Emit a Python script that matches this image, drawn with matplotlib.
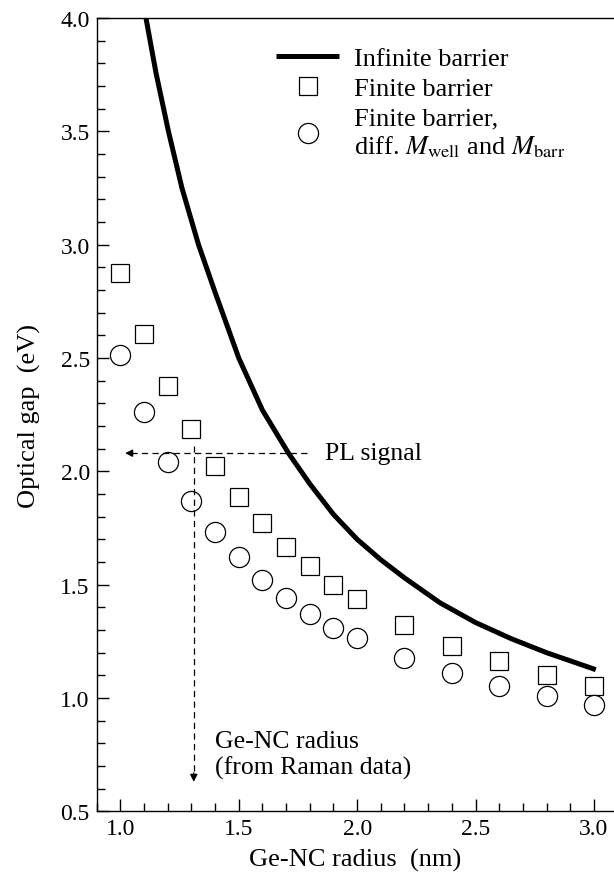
import numpy as np
import matplotlib
matplotlib.use('Agg')
import matplotlib.pyplot as plt
from matplotlib.ticker import MultipleLocator, FormatStrFormatter

plt.rcParams['font.family'] = ['Liberation Serif', 'DejaVu Serif']
plt.rcParams['mathtext.fontset'] = 'stix'

# radius (nm)
radius = [1.0, 1.1, 1.2, 1.3, 1.4, 1.5, 1.6, 1.7, 1.8, 1.9, 2.0,
          2.2, 2.4, 2.6, 2.8, 3.0]
finite_gap = [2.875, 2.606, 2.378, 2.187, 2.025, 1.886, 1.771, 1.665,
              1.581, 1.50, 1.437, 1.324, 1.231, 1.161, 1.103, 1.052]
finite_mass_gap = [2.513, 2.26, 2.043, 1.871, 1.734, 1.621, 1.52, 1.44,
                   1.37, 1.31, 1.264, 1.177, 1.111, 1.055, 1.008, 0.971]

# infinite barrier curve
inf_r = [1.108, 1.15, 1.203, 1.26, 1.33, 1.40, 1.50, 1.60, 1.71, 1.80,
         1.90, 2.0, 2.1, 2.2, 2.35, 2.5, 2.65, 2.8, 3.008]
inf_gap = [4.00, 3.76, 3.50, 3.25, 3.00, 2.79, 2.50, 2.27, 2.08, 1.945,
           1.81, 1.70, 1.61, 1.53, 1.42, 1.333, 1.262, 1.20, 1.125]

pl_gap = 2.08
raman_r = 1.31

fig = plt.figure(figsize=(6.14, 8.78), dpi=100)
ax = fig.add_axes([0.1575, 0.0748, 0.8425, 0.9036])

ax.plot(inf_r, inf_gap, color='k', lw=3.6, solid_capstyle='butt',
        solid_joinstyle='round', label='Infinite barrier')
ax.plot(radius, finite_gap, ls='none', marker='s', ms=13, mfc='white',
        mec='k', mew=0.9, label='Finite barrier')
ax.plot(radius, finite_mass_gap, ls='none', marker='o', ms=14.5, mfc='white',
        mec='k', mew=0.9,
        label='Finite barrier,\ndiff. $M_{\\mathrm{well}}$ and $M_{\\mathrm{barr}}$')

# dashed guide lines with arrows
ax.plot([1.79, 1.045], [pl_gap, pl_gap], color='k', lw=0.9, ls=(0, (5, 3.5)))
ax.annotate('', xy=(1.02, pl_gap), xytext=(1.05, pl_gap),
            arrowprops=dict(arrowstyle='-|>', color='k', lw=0.9,
                            mutation_scale=11, shrinkA=0, shrinkB=0))
ax.plot([raman_r, raman_r], [2.11, 0.66], color='k', lw=0.9, ls=(0, (5, 3.5)))
ax.annotate('', xy=(raman_r, 0.63), xytext=(raman_r, 0.67),
            arrowprops=dict(arrowstyle='-|>', color='k', lw=0.9,
                            mutation_scale=11, shrinkA=0, shrinkB=0))

ax.text(1.864, pl_gap, 'PL signal', fontsize=18.5, va='center', ha='left')
ax.text(1.40, 0.752, 'Ge-NC radius\n(from Raman data)', fontsize=18.5,
        va='center', ha='left', linespacing=1.2)

ax.set_xlim(0.9, 3.085)
ax.set_ylim(0.5, 4.0)
ax.xaxis.set_major_locator(MultipleLocator(0.5))
ax.xaxis.set_minor_locator(MultipleLocator(0.1))
ax.yaxis.set_major_locator(MultipleLocator(0.5))
ax.yaxis.set_minor_locator(MultipleLocator(0.1))
ax.xaxis.set_major_formatter(FormatStrFormatter('%.1f'))
ax.yaxis.set_major_formatter(FormatStrFormatter('%.1f'))
ax.tick_params(which='both', direction='in', top=False, right=False,
               labelsize=17, width=1.0, pad=5)
ax.tick_params(which='major', length=8.5)
ax.tick_params(which='minor', length=6)
ax.spines['right'].set_visible(False)
for s in ['left', 'bottom', 'top']:
    ax.spines[s].set_linewidth(1.0)

ax.set_xlabel('Ge-NC radius  (nm)', fontsize=19, labelpad=6)
ax.set_ylabel('Optical gap  (eV)', fontsize=19, labelpad=14)

ax.legend(loc='upper left', bbox_to_anchor=(0.4495, 0.946),
          bbox_transform=fig.transFigure, frameon=False, fontsize=19,
          handlelength=2.4, handletextpad=0.57, labelspacing=0.27,
          borderpad=0, borderaxespad=0)

fig.savefig('out.png', dpi=100)
